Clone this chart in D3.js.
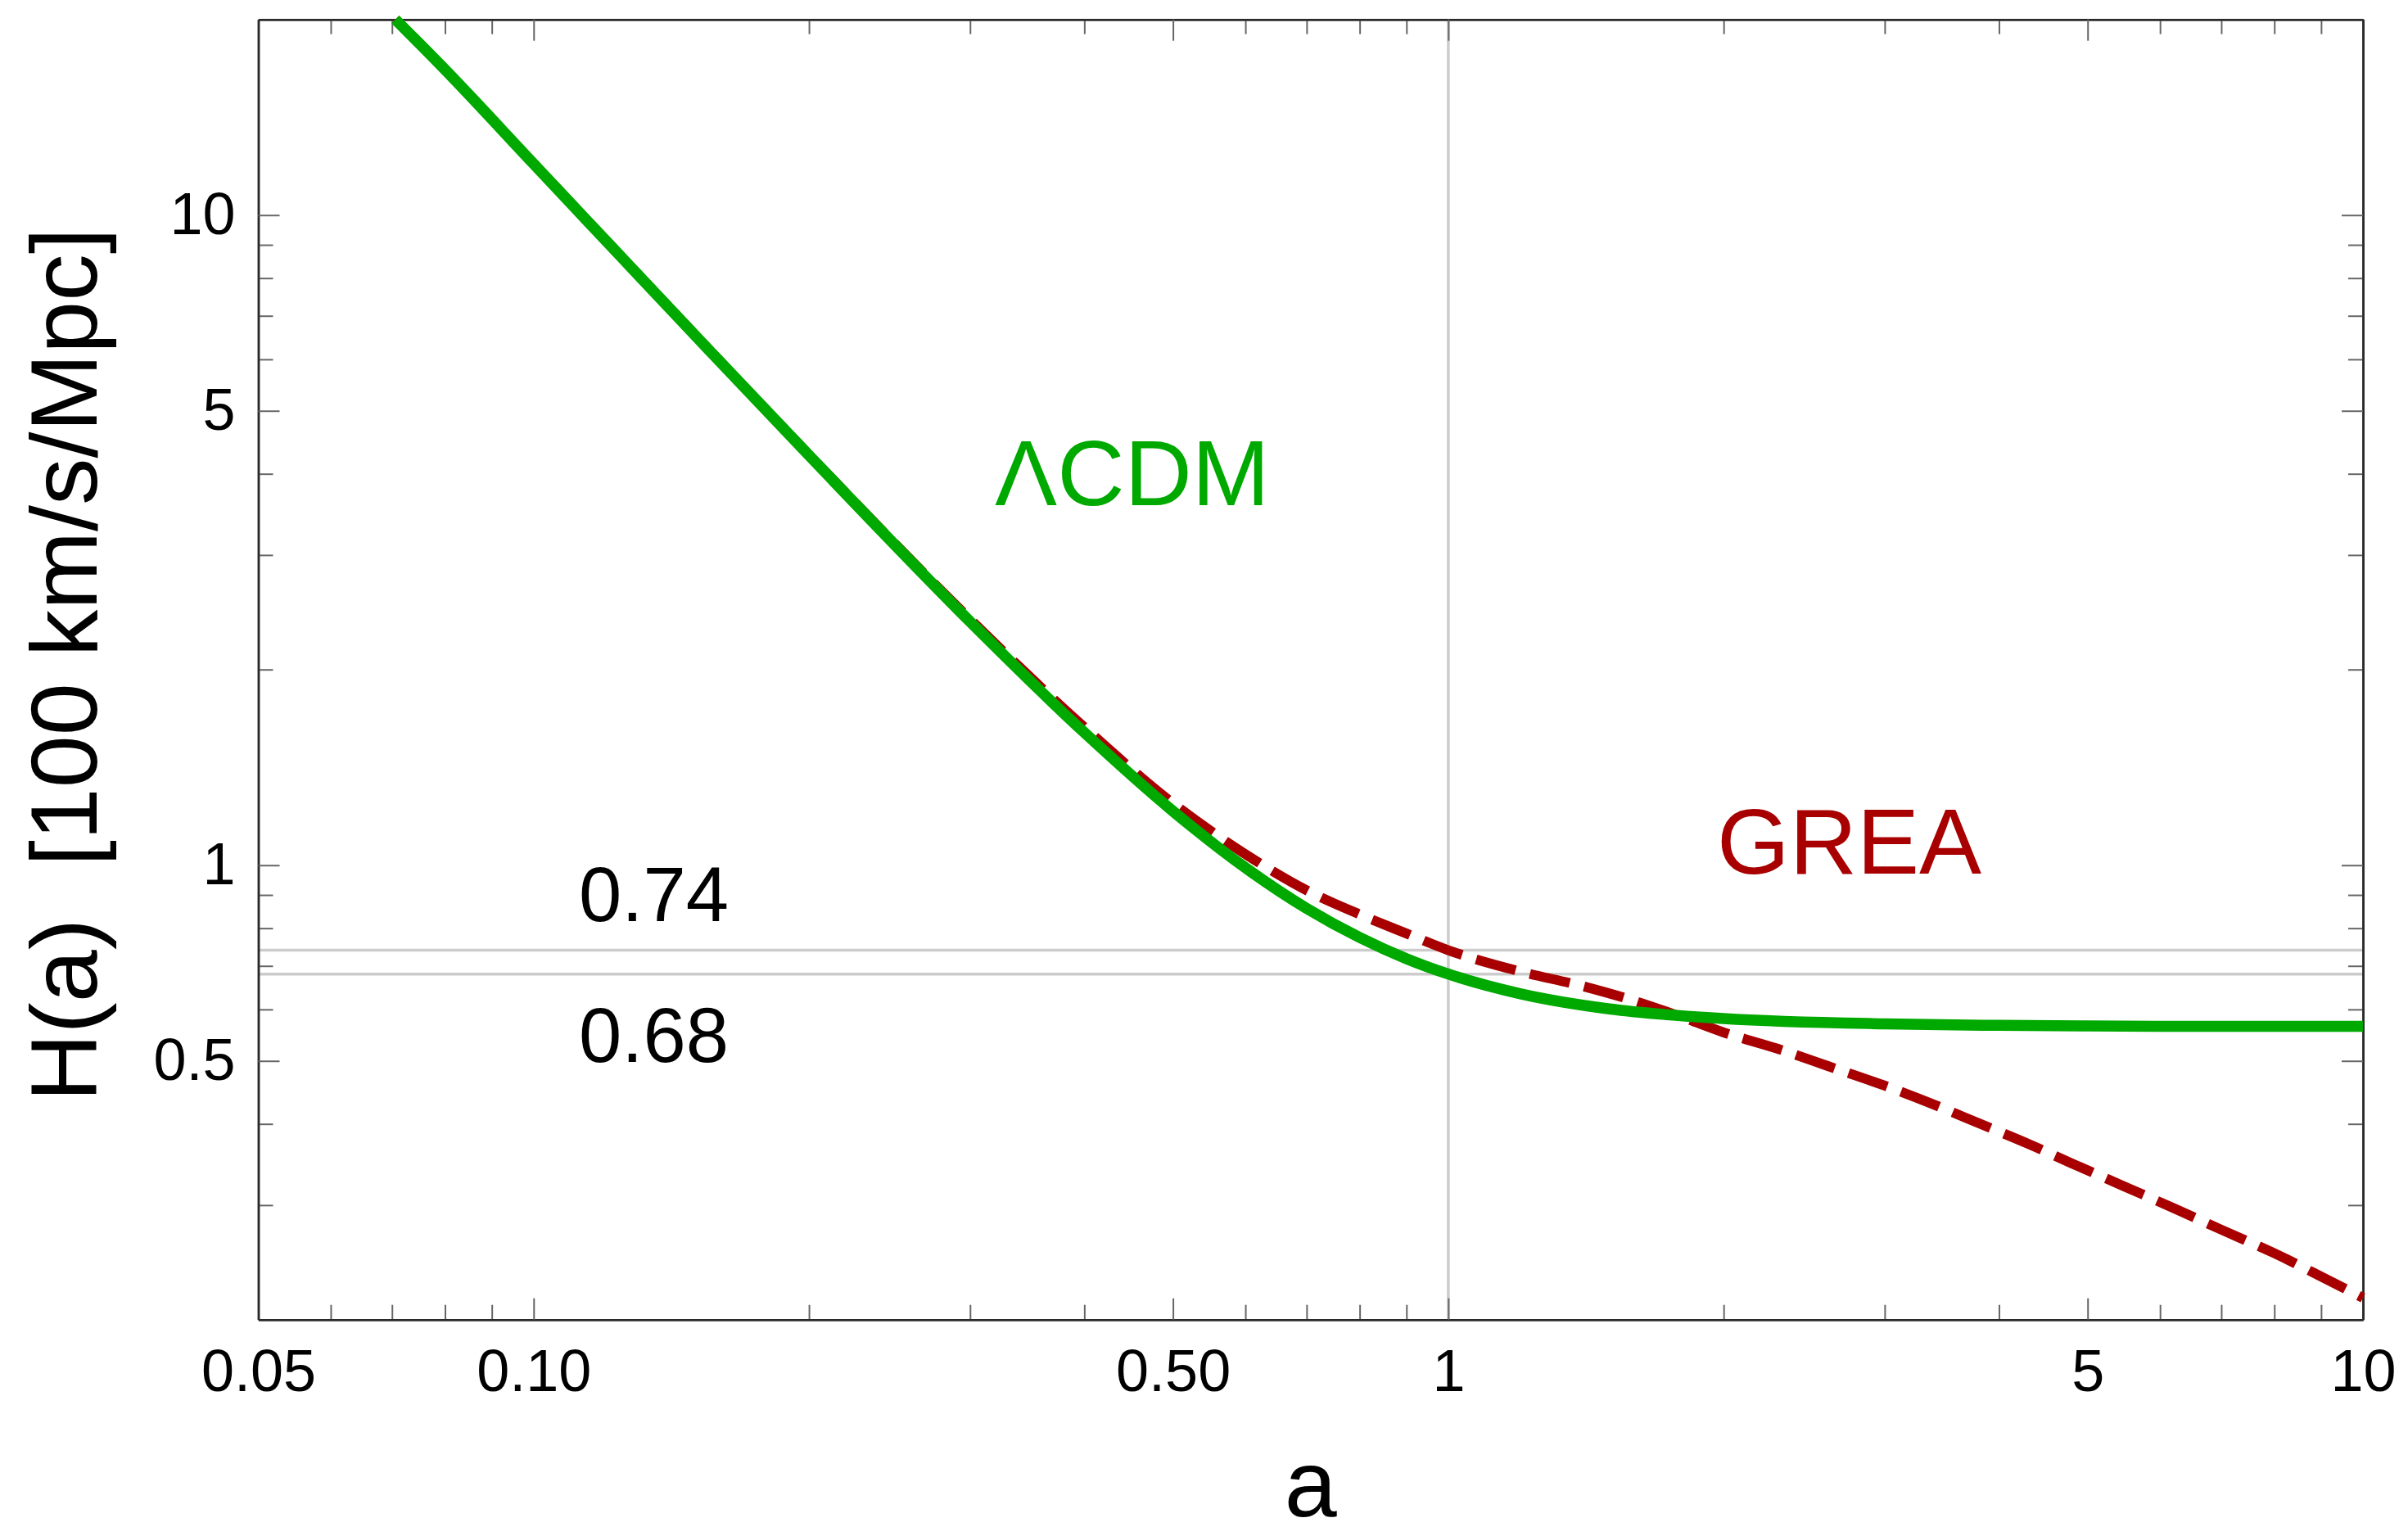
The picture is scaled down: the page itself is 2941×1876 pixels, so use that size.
<!DOCTYPE html>
<html>
<head>
<meta charset="utf-8">
<script src="https://cdn.jsdelivr.net/npm/d3@7"></script>
<style>
  html, body { margin: 0; padding: 0; background: #fff; }
  svg { display: block; }
  text { font-family: "Liberation Sans", Arial, sans-serif; }
</style>
</head>
<body>
<svg id="chart"></svg>
<script>
// scale factor a and H(a) in units of 100 km/s/Mpc
const lcdmA = [0.0706, 0.08, 0.1, 0.15, 0.2, 0.3, 0.4, 0.5, 0.6, 0.7, 0.8, 0.9, 1, 1.2, 1.5, 2, 3, 4, 5, 7, 10];
const lcdmH = [20.0, 16.74, 11.99, 6.54, 4.27, 2.37, 1.60, 1.211, 0.991, 0.858, 0.774, 0.718, 0.68, 0.634, 0.601, 0.581, 0.570, 0.567, 0.566, 0.565, 0.565];

const greaA = [0.0706, 0.08, 0.1, 0.15, 0.2, 0.3, 0.4, 0.5, 0.6, 0.7, 0.8, 0.9, 1, 1.2, 1.4, 1.6, 1.8, 2, 2.3, 2.6, 3, 3.4, 3.8, 4.3, 4.8, 5.5, 6.2, 7, 8, 9, 10];
const greaH = [20.0, 16.74, 12.0, 6.55, 4.28, 2.39, 1.63, 1.245, 1.04, 0.915, 0.84, 0.785, 0.74, 0.686, 0.652, 0.618, 0.584, 0.553, 0.521, 0.491, 0.458, 0.428, 0.401, 0.373, 0.348, 0.320, 0.297, 0.275, 0.253, 0.233, 0.216];

const hLines = [0.74, 0.68];
const vLines = [1];

const xMajor = [0.05, 0.1, 0.5, 1, 5, 10];
const xMajorLabels = ["0.05", "0.10", "0.50", "1", "5", "10"];
const xMinor = [0.06, 0.07, 0.08, 0.09, 0.2, 0.3, 0.4, 0.6, 0.7, 0.8, 0.9, 2, 3, 4, 6, 7, 8, 9];
const yMajor = [0.5, 1, 5, 10];
const yMajorLabels = ["0.5", "1", "5", "10"];
const yMinor = [0.3, 0.4, 0.6, 0.7, 0.8, 0.9, 2, 3, 4, 6, 7, 8, 9];

const W = 2941, H = 1876;
const m = { top: 23.7, right: 55, bottom: 264.3, left: 315.5 };
const w = W - m.left - m.right;
const h = H - m.top - m.bottom;

const GREEN = "#00a900";
const RED = "#a80000";

const svg = d3.select("#chart").attr("width", W).attr("height", H)
    .attr("viewBox", `0 0 ${W} ${H}`);
svg.append("rect").attr("width", W).attr("height", H).attr("fill", "#fff");

const g = svg.append("g").attr("transform", `translate(${m.left},${m.top})`);

const x = d3.scaleLog().domain([0.05, 10]).range([0, w]);
const y = d3.scaleLog().domain([0.2, 20]).range([h, 0]);

// reference lines
g.selectAll(".hline").data(hLines).enter().append("line")
    .attr("x1", 0).attr("x2", w)
    .attr("y1", d => y(d)).attr("y2", d => y(d))
    .attr("stroke", "#cccccc").attr("stroke-width", 3.5);
g.selectAll(".vline").data(vLines).enter().append("line")
    .attr("x1", d => x(d)).attr("x2", d => x(d))
    .attr("y1", 0).attr("y2", h)
    .attr("stroke", "#cccccc").attr("stroke-width", 3.5);

// ticks on all four sides, pointing inward
function styleAxis(sel) {
    sel.select(".domain").attr("stroke", "#2a2a2a").attr("stroke-width", 2.5);
    sel.selectAll(".tick line").attr("stroke", "#666").attr("stroke-width", 2);
    sel.selectAll("text").attr("fill", "#000").attr("font-size", 72)
        .attr("font-family", '"Liberation Sans", Arial, sans-serif');
}

g.append("g").attr("transform", `translate(0,${h})`)
    .call(d3.axisBottom(x).tickValues(xMinor).tickSizeInner(-18).tickSizeOuter(0).tickFormat(""))
    .call(styleAxis);
g.append("g").attr("transform", `translate(0,${h})`)
    .call(d3.axisBottom(x).tickValues(xMajor).tickSizeInner(-26).tickSizeOuter(0).tickPadding(36)
        .tickFormat((d, i) => xMajorLabels[i]))
    .call(styleAxis);
g.append("g")
    .call(d3.axisTop(x).tickValues(xMinor).tickSizeInner(-18).tickSizeOuter(0).tickFormat(""))
    .call(styleAxis);
g.append("g")
    .call(d3.axisTop(x).tickValues(xMajor).tickSizeInner(-26).tickSizeOuter(0).tickFormat(""))
    .call(styleAxis);

g.append("g")
    .call(d3.axisLeft(y).tickValues(yMinor).tickSizeInner(-18).tickSizeOuter(0).tickFormat(""))
    .call(styleAxis);
g.append("g")
    .call(d3.axisLeft(y).tickValues(yMajor).tickSizeInner(-26).tickSizeOuter(0).tickPadding(28)
        .tickFormat((d, i) => yMajorLabels[i]))
    .call(styleAxis);
g.append("g").attr("transform", `translate(${w},0)`)
    .call(d3.axisRight(y).tickValues(yMinor).tickSizeInner(-18).tickSizeOuter(0).tickFormat(""))
    .call(styleAxis);
g.append("g").attr("transform", `translate(${w},0)`)
    .call(d3.axisRight(y).tickValues(yMajor).tickSizeInner(-26).tickSizeOuter(0).tickFormat(""))
    .call(styleAxis);

// curves
const line = d3.line()
    .x(d => x(d[0]))
    .y(d => y(d[1]))
    .curve(d3.curveMonotoneX);

g.append("path")
    .datum(d3.zip(greaA, greaH))
    .attr("fill", "none")
    .attr("stroke", RED)
    .attr("stroke-width", 12)
    .attr("stroke-dasharray", "50,18")
    .attr("d", line);

g.append("path")
    .datum(d3.zip(lcdmA, lcdmH))
    .attr("fill", "none")
    .attr("stroke", GREEN)
    .attr("stroke-width", 13.5)
    .attr("d", line);

// annotations
g.append("text").attr("x", 1215 - m.left).attr("y", 617 - m.top)
    .attr("font-size", 114).attr("fill", GREEN).text("ΛCDM");
g.append("text").attr("x", 2097 - m.left).attr("y", 1067 - m.top)
    .attr("font-size", 114).attr("fill", RED).text("GREA");
g.append("text").attr("x", 707 - m.left).attr("y", 1125 - m.top)
    .attr("font-size", 94).attr("fill", "#000").text("0.74");
g.append("text").attr("x", 707 - m.left).attr("y", 1297 - m.top)
    .attr("font-size", 94).attr("fill", "#000").text("0.68");

// axis titles
g.append("text").attr("text-anchor", "middle")
    .attr("x", w / 2).attr("y", 1852 - m.top)
    .attr("font-size", 115).attr("fill", "#000").text("a");
g.append("text").attr("text-anchor", "middle")
    .attr("transform", `translate(${118 - m.left},${812 - m.top}) rotate(-90)`)
    .attr("font-size", 115).attr("fill", "#000")
    .attr("xml:space", "preserve").style("white-space", "pre")
    .text("H(a)  [100 km/s/Mpc]");
</script>
</body>
</html>
